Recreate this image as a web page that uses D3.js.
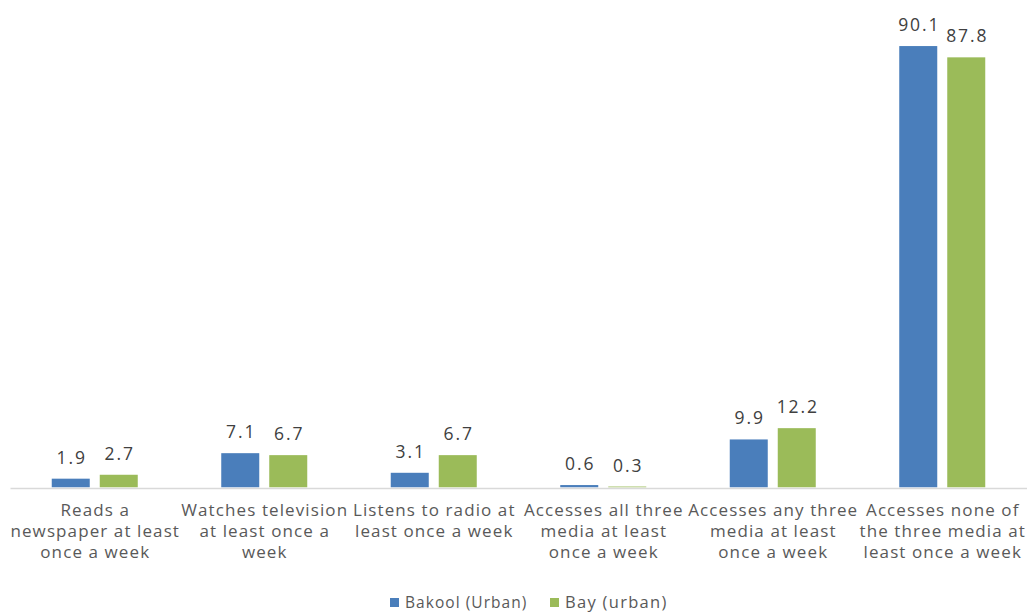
<!DOCTYPE html>
<html>
<head>
<meta charset="utf-8">
<script src="https://cdn.jsdelivr.net/npm/d3@7"></script>
<style>
  html, body { margin: 0; padding: 0; background: #fff; }
  svg { display: block; }
  text { font-family: "Open Sans", "DejaVu Sans", sans-serif; }
</style>
</head>
<body>
<svg id="chart" width="1027" height="613"></svg>
<script>
// Media exposure, share of respondents (%)
const categories = [
  ["Reads a", "newspaper at least", "once a week"],
  ["Watches television", "at least once a", "week"],
  ["Listens to radio at", "least once a week"],
  ["Accesses all three", "media at least", "once a week"],
  ["Accesses any three", "media at least", "once a week"],
  ["Accesses none of", "the three media at", "least once a week"]
];
const seriesNames = ["Bakool (Urban)", "Bay (urban)"];
const bakool = [1.9, 7.1, 3.1, 0.6, 9.9, 90.1];
const bay = [2.7, 6.7, 6.7, 0.3, 12.2, 87.8];
const colors = ["#4a7ebb", "#9bbb59"];

const svg = d3.select("#chart");
const baseline = 488;

const x = d3.scaleBand()
  .domain(d3.range(categories.length))
  .range([10, 1027]);

const y = d3.scaleLinear()
  .domain([0, 100])
  .range([baseline, -2.5]);

const barW = 38, gap = 10;
const sub = d3.scaleOrdinal()
  .domain([0, 1])
  .range([-(barW + gap / 2), gap / 2]);

const rows = [];
[bakool, bay].forEach((vals, s) => {
  vals.forEach((v, i) => rows.push({ i, s, v }));
});

// axis line
const axis = d3.axisBottom(x).tickSize(0).tickFormat("");
svg.append("g")
  .attr("transform", `translate(0,${baseline})`)
  .call(axis)
  .call(g => g.select(".domain").attr("stroke", "#d9d9d9").attr("stroke-width", 1.5));

// bars
svg.append("g").selectAll("rect")
  .data(rows)
  .join("rect")
  .attr("x", d => x(d.i) + x.bandwidth() / 2 + sub(d.s))
  .attr("width", barW)
  .attr("y", d => y(d.v))
  .attr("height", d => y(0) - y(d.v) - 0.75)
  .attr("fill", d => colors[d.s]);

// value labels
svg.append("g").selectAll("text")
  .data(rows)
  .join("text")
  .attr("x", d => x(d.i) + x.bandwidth() / 2 + sub(d.s) + barW / 2 + 1)
  .attr("y", d => y(d.v) - 15)
  .attr("text-anchor", "middle")
  .attr("font-size", 17.5)
  .attr("letter-spacing", 1.9)
  .attr("fill", "#404040")
  .text(d => d.v.toFixed(1));

// category labels
const cat = svg.append("g").selectAll("text")
  .data(categories)
  .join("text")
  .attr("text-anchor", "middle")
  .attr("font-size", 17)
  .attr("letter-spacing", 1.1)
  .attr("fill", "#595959");
cat.selectAll("tspan")
  .data((d, i) => d.map(line => ({ line, i })))
  .join("tspan")
  .attr("x", d => x(d.i) + x.bandwidth() / 2 + 0.5)
  .attr("y", (d, j) => 516 + j * 21)
  .text(d => d.line);

// legend
const legendPos = [390, 550];
const legendSize = [15.5, 16.5];
const legendSpacing = [1.05, 1.3];
const leg = svg.append("g").selectAll("g")
  .data(seriesNames)
  .join("g")
  .attr("transform", (d, i) => `translate(${legendPos[i]},598)`);
leg.append("rect")
  .attr("width", 9).attr("height", 9)
  .attr("fill", (d, i) => colors[i]);
leg.append("text")
  .attr("x", 15).attr("y", 10)
  .attr("font-size", (d, i) => legendSize[i])
  .attr("letter-spacing", (d, i) => legendSpacing[i])
  .attr("fill", "#595959")
  .text(d => d);
</script>
</body>
</html>
